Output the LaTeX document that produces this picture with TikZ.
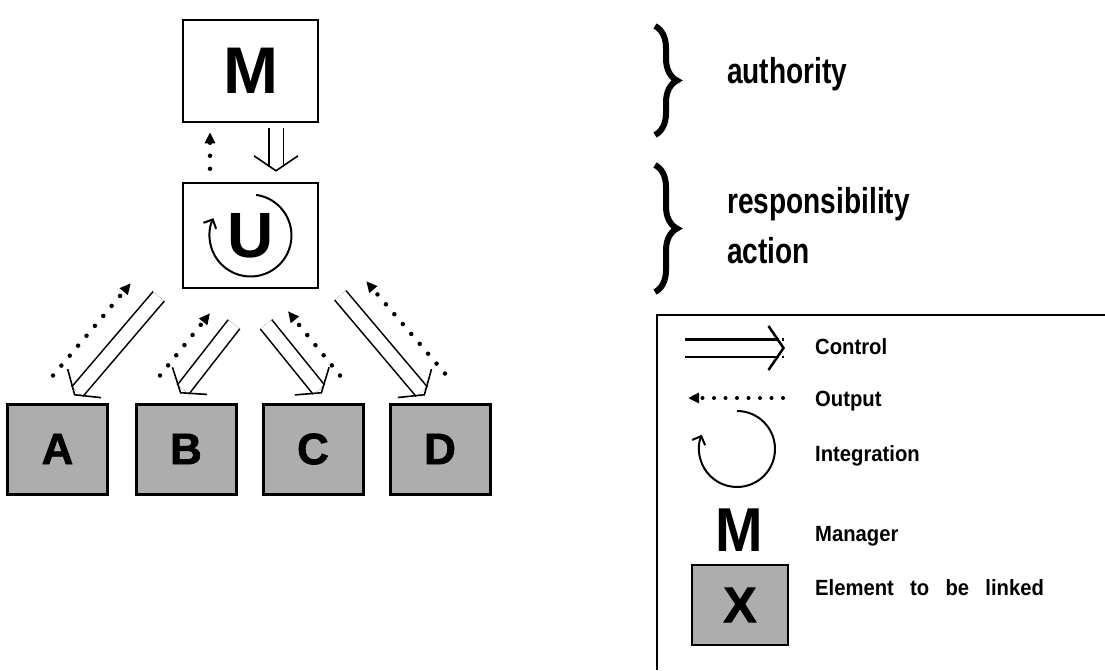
\documentclass[tikz,border=0pt]{standalone}
\usepackage{fontspec}
\setmainfont{Liberation Sans}
\newfontfamily\notefont{Liberation Sans}[FakeStretch=0.78]
\newfontfamily\keyfont{Liberation Sans}[FakeStretch=0.92]
\newfontfamily\keywidefont{Liberation Sans}[FakeStretch=0.92, WordSpace=1.7]
\newfontfamily\heavyfont{Liberation Sans}[FakeBold=1.5]
\usetikzlibrary{arrows.meta,decorations.pathreplacing,calc}
\tikzset{
  unitbox/.style={draw, line width=2.5pt, minimum width=135pt, inner sep=0pt, fill=white},
  elembox/.style={draw, line width=3pt, minimum width=100pt, minimum height=90pt, inner sep=0pt,
    fill=black!32, font=\heavyfont\bfseries\fontsize{44}{44}\selectfont},
  ctlshaft/.style={double, double distance=13pt, line width=1.6pt},
  ctlhead/.style={line width=1.6pt, line join=miter, -{Straight Barb[length=15pt,width=44pt]}},
  outp/.style={line width=4.5pt, line cap=round, dash pattern=on 0pt off 13pt,
    -{Triangle[length=11pt,width=10pt]}},
  loop/.style={line width=2pt, -{Straight Barb[length=7pt,width=14pt]}},
  bigbrace/.style={decorate, decoration={brace, amplitude=22pt}, line width=6pt},
  note/.style={anchor=base west, inner sep=0pt, font=\notefont\bfseries\fontsize{36}{36}\selectfont},
  keytext/.style={anchor=base west, inner sep=0pt, font=\keyfont\bfseries\fontsize{22}{22}\selectfont},
}
% control arrow: two parallel lines ending in an open head
\newcommand\ctlarrow[4][]{%
  \draw[ctlshaft,#1] (#2) -- ($(#3)!#4!(#2)$);
  \draw[ctlhead,#1] ($(#3)!1pt!(#2)$) -- (#3);}
\begin{document}
\begin{tikzpicture}[x=1pt, y=-1pt]
\useasboundingbox (0,0) rectangle (1105,670);

% manager and unit
\node[unitbox, minimum height=102pt, font=\bfseries\fontsize{66}{66}\selectfont] (M) at (250.5,71) {M};
\node[unitbox, minimum height=105pt, font=\bfseries\fontsize{64}{64}\selectfont] (U) at (250.5,235.5) {U};

% elements to be linked
\node[elembox] (A) at (57.5,449) {A};
\node[elembox] (B) at (186,449) {B};
\node[elembox] (C) at (313,449) {C};
\node[elembox] (D) at (440,449) {D};

% integration loop inside the unit (clockwise on the page)
\draw[loop] ([shift={(-82:41)}]U.center) arc[start angle=-82, end angle=205, radius=41];

% manager <-> unit
\draw[outp] ($(U.north)+(-40.5,-13)$) -- ($(M.south)+(-40.5,9)$);
\coordinate (cMs) at ($(M.south)+(25.5,5)$);
\coordinate (cMe) at ($(U.north)+(25.5,-10)$);
\ctlarrow{cMs}{cMe}{5pt}

% unit -> elements (control)
\coordinate (cAs) at ($(U.south west)+(-23,7)$);
\coordinate (cAe) at ($(A.north)+(16.5,-7)$);
\coordinate (cBs) at ($(U.south)+(-16.5,35)$);
\coordinate (cBe) at ($(B.north)+(-6,-9)$);
\coordinate (cCs) at ($(U.south)+(15.5,35)$);
\coordinate (cCe) at ($(C.north)+(9,-9)$);
\coordinate (cDs) at ($(U.south east)+(21,6)$);
\coordinate (cDe) at ($(D.north)+(-15,-7)$);
\ctlarrow{cAs}{cAe}{5pt}
\ctlarrow{cBs}{cBe}{5pt}
\ctlarrow{cCs}{cCe}{5pt}
\ctlarrow{cDs}{cDe}{5pt}

% elements -> unit (output)
\draw[outp] ($(A.north)+(-4.5,-27)$) -- ($(U.south west)+(-51,-6)$);
\draw[outp] ($(B.north)+(-26,-27)$) -- ($(U.south)+(-40.5,24)$);
\draw[outp] ($(C.north)+(27,-27)$) -- ($(U.south)+(37.5,22)$);
\draw[outp] ($(D.north)+(5,-29)$) -- ($(U.south east)+(47,-8)$);

% braces and their notes
\draw[bigbrace] (655,26) -- (655,135);
\draw[bigbrace] (655,165) -- (655,292);
\node[note] (auth) at (727,83) {authority};
\node[note] (resp) at (727,213) {responsibility};
\node[note] (act) at (727,263) {action};

% legend frame
\draw[line width=2pt] (1105,315) -- (657,315) -- (657,670);

% legend keys
\coordinate (kc1) at (685,348);
\coordinate (kc2) at (785,348);
\ctlarrow[double distance=15pt, line width=2.5pt,
  ctlhead/.append style={-{Straight Barb[length=14pt,width=52pt]}}]{kc1}{kc2}{6pt}
\coordinate (ko1) at (783,398);
\coordinate (ko2) at (688,398);
\draw[outp, line width=4pt, dash pattern=on 0pt off 11.5pt] (ko1) -- (ko2);
\coordinate (kl) at (737,449);
\draw[loop] ([shift={(-90:38)}]kl) arc[start angle=-90, end angle=202, radius=38];
\node[inner sep=0pt, font=\keyfont\bfseries\fontsize{62}{62}\selectfont] (km) at (739,530) {M};
\node[elembox, minimum width=96pt, minimum height=80pt, line width=2.5pt,
  font=\heavyfont\bfseries\fontsize{50}{50}\selectfont] (kx) at (740,605) {X};

\node[keytext] (t1) at (815,354) {Control};
\node[keytext] (t2) at (815,406) {Output};
\node[keytext] (t3) at (815,461) {Integration};
\node[keytext] (t4) at (815,541) {Manager};
\node[keytext, font=\keywidefont\bfseries\fontsize{22}{22}\selectfont] (t5) at (815,595) {Element to be linked};
\end{tikzpicture}
\end{document}
